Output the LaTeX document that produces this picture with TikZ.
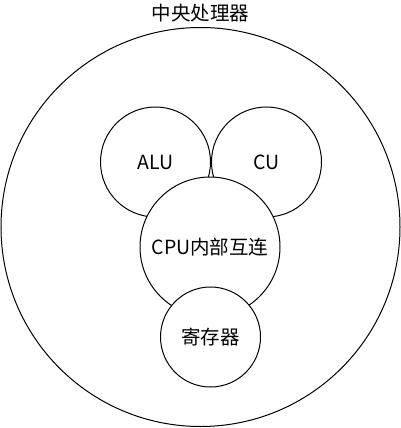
\documentclass[tikz,border=0pt]{standalone}
\usepackage{fontspec}
\setmainfont{Noto Sans CJK SC}
\usetikzlibrary{positioning}

\begin{document}
\begin{tikzpicture}[x=1pt, y=-1pt, line width=1pt,
                    part/.style = {draw, circle, fill=white, inner sep=0pt,
                    font=\fontsize{19.5}{22}\selectfont}]
\useasboundingbox (0,0) rectangle (401,428);
\node[part, minimum size=399pt] (cpu) at (200.5,227) {};
\node[font=\fontsize{19.5}{22}\selectfont] (title) at (200.5,13) {中央处理器};
\node[part, minimum size=110pt] (alu) at (155.5,162) {ALU};
\node[part, minimum size=110pt, right=0pt of alu] (cu) {CU};
\node[part, minimum size=140pt] (bus) at (210,247) {CPU内部互连};
\node[part, minimum size=100pt] (reg) at (210.5,337) {寄存器};
\end{tikzpicture}
\end{document}
